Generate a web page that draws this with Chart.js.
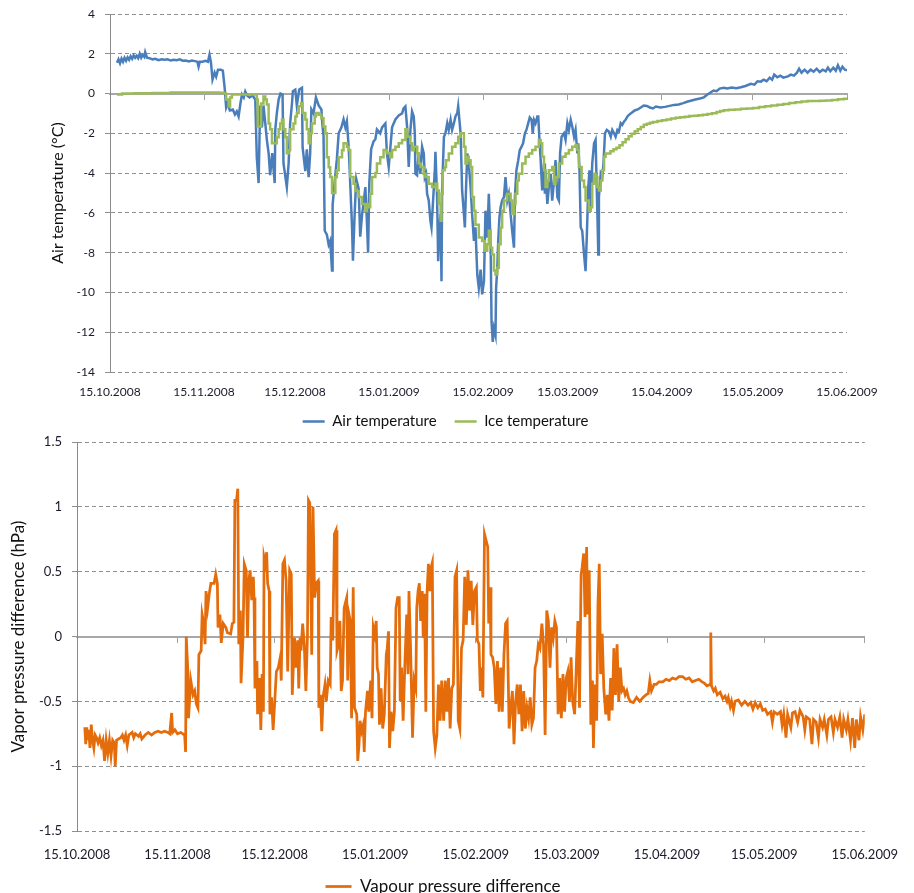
<!DOCTYPE html>
<html>
<head>
<meta charset="utf-8">
<script src="https://cdn.jsdelivr.net/npm/chart.js@4.4.0/dist/chart.umd.min.js"></script>
<style>
  html, body { margin: 0; padding: 0; background: #fff; }
  #wrap { position: relative; width: 914px; height: 893px; overflow: hidden; }
  canvas { position: absolute; left: 0; }
  #tempChart { top: 0; }
  #vapourChart { top: 430px; }
</style>
</head>
<body>
<div id="wrap">
  <canvas id="tempChart" width="914" height="445"></canvas>
  <canvas id="vapourChart" width="914" height="476"></canvas>
</div>
<script>
// x values are days after 15.10.2008
const tickDays = [0, 31, 61, 92, 123, 151, 182, 212, 243];
const tickLabels = ['15.10.2008', '15.11.2008', '15.12.2008', '15.01.2009', '15.02.2009',
                    '15.03.2009', '15.04.2009', '15.05.2009', '15.06.2009'];

// [day, air temperature °C]
const airTemp = [
  [2.3,1.55],[2.8,1.72],[3.3,1.52],[3.8,1.76],[4.3,1.6],[4.8,1.8],[5.3,1.65],[5.8,1.82],[6.3,1.7],[6.8,1.88],
  [7.3,1.75],[7.8,1.92],[8.3,1.8],[8.8,1.9],[9.3,1.78],[9.8,2.0],[10.3,1.8],[10.8,1.95],[11.3,1.85],[11.6,2.08],
  [12.2,1.8],[13,1.78],[14,1.72],[15,1.75],[16,1.68],[17,1.72],[18,1.7],[19,1.72],[20,1.66],[21,1.7],
  [22,1.68],[23,1.72],[24,1.65],[25,1.66],[26,1.62],[27,1.66],[28,1.63],[28.8,1.6],[29.2,1.35],[29.6,1.6],
  [30.5,1.6],[31.5,1.65],[32.3,1.6],[32.8,1.95],[33.3,1.55],[33.8,0.7],[34.5,1.05],[35,0.85],[35.6,1.2],[36.5,1.2],
  [37.2,1.15],[37.8,0.3],[38.3,-0.7],[38.8,-0.5],[39.5,-0.85],[40.5,-0.8],[41.2,-1.05],[41.8,-0.9],[42.4,-1.15],[43,-0.5],
  [43.5,-0.05],[44.1,-0.2],[44.6,0.1],[45.2,-0.1],[46,-0.2],[47,-0.1],[47.9,-0.3],[48.4,-3.2],[49,-4.5],[49.5,-0.6],
  [50.1,-1.7],[50.6,-0.6],[51.2,-1.5],[51.7,-2.3],[52.3,-3.0],[52.8,-4.1],[53.5,-3.0],[54.3,-4.5],[54.5,-1.8],[55,-1.0],
  [55.6,-0.3],[56.2,0.0],[56.9,-0.05],[57.2,-3.5],[58.3,-4.7],[58.9,-3.5],[59.4,-1.5],[60,-0.5],[60.3,0.12],[61.1,0.2],
  [61.6,-0.6],[62.4,0.2],[63.3,0.29],[63.5,-2.7],[64.4,-3.9],[64.9,-2.8],[65.5,-4.2],[66,-3.0],[66.4,-0.8],[67.1,-1.0],
  [67.9,-0.2],[68.8,-0.6],[69.7,-0.8],[70.1,-1.7],[70.4,-2.1],[70.8,-6.9],[71.5,-7.1],[72.1,-7.6],[72.6,-7.4],[73.2,-8.9],
  [73.4,-5.6],[74.1,-4.4],[74.8,-3.3],[75.4,-2.0],[76.3,-1.7],[77,-1.3],[77.6,-1.7],[78.1,-1.4],[78.7,-2.7],[79.2,-4.5],
  [79.8,-6.7],[80.1,-8.4],[80.7,-5.9],[81.2,-4.3],[82,-4.8],[82.5,-7.2],[83.1,-6.1],[83.6,-5.5],[84.2,-4.7],[84.7,-6.4],
  [85.1,-8.0],[85.5,-4.5],[86.1,-2.8],[86.9,-2.4],[87.5,-2.3],[88,-1.8],[89.1,-2.0],[89.7,-1.7],[90.8,-1.5],[91.3,-3.0],
  [91.9,-3.7],[93,-1.7],[94.1,-1.3],[95.2,-1.1],[96.3,-1.0],[96.8,-0.75],[97.4,-0.65],[97.95,-1.66],[98.5,-3.69],[99.05,-1.83],
  [99.6,-0.9],[100.15,-1.15],[100.5,-2.0],[100.7,-4.03],[101.25,-4.11],[101.8,-3.01],[102.35,-4.03],[102.9,-2.67],[103.45,-3.01],[103.8,-4.2],
  [104.2,-4.03],[104.55,-5.04],[105.1,-5.38],[105.65,-6.4],[106,-6.73],[106.4,-5.72],[107.1,-3.86],[107.3,-2.93],[107.85,-5.21],[108.2,-8.43],
  [108.6,-6.73],[109,-6.06],[109.3,-9.44],[109.5,-4.87],[110.1,-2.17],[110.6,-2.0],[111.2,-1.49],[111.7,-1.83],[112.3,-1.32],[112.8,-1.83],
  [113.4,-1.49],[113.9,-1.15],[114.5,-0.98],[114.8,-0.64],[115.2,-1.32],[115.6,-2.0],[116.1,-4.87],[116.7,-6.06],[117,-6.73],[117.4,-4.7],
  [117.8,-3.01],[118.3,-3.52],[118.9,-4.7],[119.4,-6.06],[120,-7.41],[120.5,-6.73],[121.1,-9.1],[121.6,-9.78],[122.2,-8.85],[122.7,-10.1],
  [123.3,-9.44],[123.8,-5.89],[124.4,-7.24],[124.9,-5.04],[125.5,-7.58],[125.8,-11.47],[126.2,-12.49],[126.6,-11.81],[127.1,-12.15],[127.3,-9.78],
  [127.7,-8.76],[128,-7.41],[128.4,-6.23],[128.8,-5.72],[129.3,-5.38],[129.9,-5.21],[130.4,-4.2],[131,-5.38],[131.5,-5.04],[132.1,-6.06],
  [132.6,-6.9],[133.2,-7.75],[133.5,-5.21],[134,-3.86],[134.6,-3.35],[135.1,-2.84],[135.7,-2.67],[136.2,-2.5],[136.8,-2.0],[137.3,-1.83],
  [137.9,-1.49],[138.4,-1.2],[139,-1.32],[139.4,-2.0],[139.8,-1.32],[140.3,-1.49],[140.9,-1.15],[141.2,-1.15],[141.6,-2.33],[142,-3.35],
  [142.5,-4.87],[143.1,-3.52],[143.4,-5.04],[143.6,-3.86],[144.2,-5.55],[144.7,-4.7],[145.3,-4.03],[145.8,-5.38],[146.4,-4.37],[146.9,-3.35],
  [147.5,-5.21],[148,-5.38],[148.4,-3.01],[148.9,-2.17],[149.7,-2.0],[150.2,-2.33],[150.8,-1.49],[151.3,-1.83],[151.9,-1.32],[152.4,-1.66],
  [153,-2.17],[153.5,-1.83],[154.1,-3.01],[154.4,-2.5],[154.8,-3.86],[155.2,-6.73],[155.7,-6.9],[156.3,-8.09],[156.8,-8.93],[157.2,-7.24],
  [157.7,-4.7],[158.1,-3.86],[158.5,-5.89],[159,-3.52],[159.6,-2.5],[160.1,-2.33],[160.7,-6.06],[161,-8.09],[161.2,-5.21],[161.8,-4.03],
  [162.3,-4.2],[162.7,-3.52],[163.2,-2.0],[163.8,-1.83],[164.5,-1.91],[165.1,-2.17],[165.6,-1.83],[166.2,-2.0],[166.7,-2.17],[167.3,-1.83],
  [167.8,-1.91],[168.4,-1.49],[168.9,-1.57],[169.5,-1.4],[170,-1.32],[170.6,-1.15],[171.1,-1.07],[172,-0.97],[173,-0.85],[174,-0.8],
  [175,-0.7],[176,-0.6],[177,-0.62],[178,-0.7],[179,-0.75],[180,-0.65],[181.5,-0.7],[183,-0.67],[184.5,-0.62],[186,-0.57],
  [187.5,-0.55],[189,-0.48],[190.5,-0.4],[191.5,-0.36],[193,-0.3],[194.5,-0.25],[195.8,-0.19],[197,-0.05],[198,0.05],[199,0.15],
  [200,0.12],[201,0.25],[202.4,0.29],[203.5,0.25],[205,0.3],[206.5,0.27],[208,0.32],[209.5,0.38],[211.3,0.49],[212.5,0.45],
  [213.5,0.62],[214.6,0.6],[215.5,0.7],[216.5,0.62],[217.5,0.8],[218.3,0.7],[219,0.95],[220,0.82],[221,0.9],[222,0.8],
  [223.5,0.86],[224.5,0.95],[225.5,0.9],[226.5,1.05],[227.2,1.25],[228,1.05],[229,1.2],[230,1.05],[231,1.2],[232,1.1],
  [233,1.25],[234,1.08],[235,1.2],[236,1.12],[236.7,1.3],[237.5,1.12],[238.5,1.3],[239.3,1.15],[240,1.42],[240.8,1.15],
  [241.5,1.35],[242.3,1.2],[243,1.17]
];

// [day, ice temperature °C]
const iceTemp = [
  [2.3,-0.05],[4,0.0],[8,0.02],[14,0.03],[20,0.05],[26,0.05],[32,0.05],[36,0.04],[37.5,0.0],[38.3,-0.3],
  [39.1,-0.65],[39.6,-0.2],[40.2,-0.05],[48,-0.05],[48.4,-0.3],[48.7,-1.66],[49.8,-0.5],[50.6,-0.15],[51.2,-0.3],[51.7,-0.55],
  [52.3,-1.5],[52.8,-1.8],[53.4,-2.5],[55,-2.2],[55.6,-1.8],[56.1,-1.5],[56.7,-1.3],[57.2,-1.8],[57.8,-2.2],[58.3,-3.0],
  [58.9,-2.85],[59.4,-1.8],[60.5,-1.5],[61.1,-1.15],[61.6,-0.98],[62.2,-0.64],[63,-0.47],[63.5,-0.98],[64.4,-1.3],[64.9,-1.8],
  [65.5,-2.5],[66,-2.0],[66.6,-1.5],[67.5,-1.15],[67.9,-0.98],[68.8,-1.07],[69.7,-1.24],[70.4,-1.66],[71,-2.0],[71.5,-3.2],
  [72.1,-3.7],[72.6,-4.2],[73.2,-5.0],[74.3,-4.2],[74.8,-3.86],[75.4,-3.2],[76.5,-2.85],[77,-2.5],[78.1,-2.67],[78.7,-2.84],
  [79.2,-4.2],[80.3,-4.53],[80.9,-4.9],[82,-5.2],[83.1,-5.55],[84.2,-5.9],[84.7,-5.55],[85.3,-5.72],[85.8,-5.04],[86.4,-4.2],
  [87.5,-4.0],[88,-3.52],[89.1,-3.2],[90.2,-2.84],[91.3,-3.0],[92.4,-3.2],[93,-2.84],[94.1,-2.67],[95.2,-2.5],[96.3,-2.33],
  [97.4,-1.8],[98,-2.17],[99,-2.5],[99.6,-2.85],[100.2,-2.67],[101.3,-3.0],[101.8,-3.52],[102.4,-3.69],[103.4,-4.03],[104,-4.2],
  [105.1,-4.53],[106.2,-4.7],[107.3,-4.53],[107.9,-4.87],[108.4,-5.55],[109,-6.4],[109.3,-5.04],[109.7,-3.86],[110.4,-3.69],[110.8,-3.35],
  [111.7,-3.01],[112.8,-2.67],[113.9,-2.5],[114.8,-2.17],[115.6,-2.0],[116.7,-2.67],[117.2,-3.52],[117.8,-3.18],[118.3,-3.35],[118.9,-3.69],
  [119.4,-5.2],[120,-5.89],[120.5,-6.6],[121.6,-7.24],[122.7,-7.41],[123.6,-7.9],[124.4,-7.58],[124.9,-6.9],[125.5,-7.75],[126,-8.09],
  [126.6,-8.9],[127.1,-9.1],[127.7,-8.76],[128.2,-7.58],[128.8,-6.73],[129.3,-5.89],[129.9,-5.38],[131,-5.04],[132.1,-5.38],[132.6,-6.06],
  [133.2,-5.55],[133.7,-5.04],[134.3,-4.37],[134.8,-4.03],[135.9,-3.52],[137,-3.18],[138.1,-3.01],[139.2,-2.84],[140.3,-2.67],[141.4,-2.33],
  [142,-2.5],[142.5,-3.18],[143.1,-3.86],[143.6,-4.7],[144.2,-4.37],[144.7,-3.86],[145.8,-3.69],[146.4,-4.53],[146.9,-4.2],[148,-3.52],
  [149.1,-3.18],[150.2,-3.01],[151.3,-2.84],[152.4,-2.67],[153.5,-2.59],[154.1,-2.84],[154.6,-3.69],[155.5,-4.37],[156.3,-4.7],[156.8,-5.38],
  [157.9,-5.89],[158.5,-5.72],[159,-4.53],[159.6,-4.03],[160.1,-4.2],[160.7,-4.7],[161.2,-4.87],[161.8,-4.37],[162.3,-3.86],[162.9,-3.18],
  [163.4,-3.01],[165,-2.9],[166,-2.8],[167,-2.72],[168,-2.6],[169,-2.45],[170,-2.3],[171,-2.15],[172,-2.02],[173,-1.9],
  [174,-1.8],[175,-1.68],[176,-1.57],[177,-1.52],[178,-1.47],[179,-1.43],[180.5,-1.38],[182,-1.34],[183.5,-1.3],[185,-1.25],
  [186.5,-1.22],[188,-1.19],[189.5,-1.16],[191,-1.13],[192.5,-1.11],[194,-1.09],[195.5,-1.06],[197,-1.03],[198.5,-0.99],[200,-0.93],
  [201.2,-0.88],[202.4,-0.84],[204,-0.82],[206,-0.8],[208,-0.77],[210,-0.75],[212,-0.72],[214,-0.68],[216,-0.64],[218,-0.6],
  [220,-0.56],[222,-0.52],[224,-0.48],[226,-0.44],[228,-0.4],[230,-0.38],[232,-0.37],[234,-0.36],[236,-0.35],[238,-0.32],
  [240,-0.29],[242,-0.26],[243,-0.24]
];

// [day, vapour pressure difference hPa]
const vapourDiff = [
  [2.4,-0.7],[2.7,-0.83],[3.0,-0.7],[3.3,-0.8],[3.6,-0.72],[4.0,-0.86],[4.4,-0.68],[4.8,-0.8],[5.2,-0.86],[5.6,-0.76],
  [6.0,-0.78],[6.5,-0.82],[7.0,-0.78],[7.5,-0.84],[8.0,-0.8],[8.5,-0.96],[9.0,-0.8],[9.5,-0.9],[10,-0.8],[10.5,-0.92],
  [11,-0.8],[11.5,-0.82],[11.8,-1.0],[12.2,-0.8],[12.8,-0.79],[13.5,-0.78],[14,-0.76],[14.5,-0.8],[15,-0.76],[15.5,-0.84],
  [16,-0.76],[17,-0.74],[17.5,-0.78],[18,-0.75],[19,-0.77],[19.5,-0.75],[20,-0.79],[21,-0.76],[22,-0.74],[23,-0.76],
  [24,-0.74],[25,-0.73],[26,-0.74],[27,-0.73],[28,-0.74],[28.6,-0.75],[29.2,-0.59],[29.5,-0.74],[30.2,-0.72],[31,-0.75],
  [32,-0.74],[33.2,-0.76],[33.5,-0.89],[33.7,0.0],[34.2,-0.27],[34.4,-0.63],[35.1,-0.34],[35.8,-0.45],[36.3,-0.42],[36.8,-0.52],
  [37.3,-0.55],[37.6,-0.14],[38.3,-0.11],[38.6,0.17],[39.1,0.1],[39.5,-0.06],[39.8,0.35],[40.3,0.22],[40.8,0.33],[41.3,0.41],
  [42.3,0.41],[42.8,0.48],[43.3,0.41],[43.5,0.07],[44.1,0.17],[44.5,-0.05],[45.1,0.1],[45.9,0.07],[46.4,0.03],[47.4,0.02],
  [47.9,0.1],[48.4,0.11],[48.7,1.05],[49.2,1.05],[49.6,1.14],[49.9,-0.06],[50.4,0.2],[50.6,-0.36],[51.2,-0.01],[51.6,0.56],
  [52.2,0.51],[52.6,-0.01],[53.0,0.43],[53.4,0.51],[53.9,0.28],[54.4,0.46],[54.6,0.3],[54.9,-0.4],[55.5,-0.19],[55.7,-0.6],
  [56.3,-0.32],[56.7,-0.72],[57.1,-0.29],[57.5,-0.58],[57.7,0.61],[58.1,0.56],[58.5,0.65],[58.8,0.41],[59.3,0.35],[59.5,-0.6],
  [60.0,-0.47],[60.5,-0.72],[61.0,-0.5],[61.5,-0.27],[62.1,-0.24],[62.7,-0.16],[63.0,-0.34],[63.5,0.56],[64.0,0.59],[64.5,0.43],
  [65.0,-0.27],[65.6,0.51],[66.1,0.48],[66.4,-0.45],[66.8,-0.19],[67.1,-0.01],[67.6,-0.24],[68.1,-0.03],[68.4,-0.4],[68.8,-0.01],
  [69.1,-0.11],[69.6,0.1],[70.1,-0.06],[70.6,-0.42],[71.1,0.02],[71.4,1.05],[71.8,1.03],[72.4,-0.14],[72.8,1.0],[73.3,0.3],
  [73.8,0.41],[74.4,0.43],[74.6,-0.55],[75.1,-0.45],[75.5,-0.73],[75.9,-0.47],[76.5,-0.37],[76.9,-0.5],[77.5,-0.34],[78.1,-0.37],
  [78.4,0.15],[78.9,-0.03],[79.4,0.79],[79.9,0.82],[80.2,-0.11],[80.7,-0.06],[81.1,0.12],[81.5,-0.42],[81.9,-0.34],[82.4,0.22],
  [82.7,0.25],[83.2,0.3],[83.5,-0.34],[83.9,0.17],[84.3,0.12],[84.7,-0.63],[85.2,0.38],[85.6,-0.55],[86.3,-0.6],[86.6,-0.96],
  [87.0,-0.83],[87.3,-0.65],[87.8,-0.73],[88.3,-0.68],[88.6,-0.89],[89.0,-0.58],[89.6,-0.42],[90.0,-0.58],[90.6,-0.34],[91.0,-0.63],
  [91.4,0.07],[91.8,0.02],[92.3,0.12],[92.6,-0.24],[93.0,-0.29],[93.3,-0.68],[93.8,-0.4],[94.3,-0.71],[94.8,-0.6],[95.4,-0.14],
  [95.7,-0.09],[96.1,0.04],[96.4,-0.86],[96.9,-0.58],[97.4,-0.73],[97.9,-0.58],[98.4,0.22],[98.9,0.3],[99.4,0.3],[99.7,-0.5],
  [100.1,-0.24],[100.6,-0.65],[101.1,-0.24],[101.7,0.17],[102.1,-0.29],[102.4,0.35],[102.9,-0.09],[103.5,-0.78],[104.0,-0.34],[104.5,-0.4],
  [104.8,0.22],[105.2,0.35],[105.6,0.41],[106.0,0.12],[106.5,0.35],[106.8,-0.01],[107.2,0.33],[107.6,-0.58],[108.0,0.35],[108.4,0.56],
  [108.8,0.35],[109.2,0.53],[109.6,0.57],[110.0,-0.73],[110.5,-0.86],[111.0,-0.76],[111.5,-0.37],[112.0,-0.65],[112.5,-0.34],[113.1,-0.65],
  [113.6,-0.34],[114.1,-0.58],[114.6,-0.32],[115.1,-0.71],[115.6,-0.4],[116.1,-0.37],[116.6,0.46],[117.1,0.51],[117.6,-0.65],[118.1,-0.71],
  [118.6,-0.09],[119.1,-0.03],[119.6,0.46],[120.1,0.09],[120.6,0.51],[121.1,0.2],[121.6,0.43],[122.1,0.09],[122.6,0.35],[123.2,0.38],
  [123.5,-0.03],[124.0,-0.06],[124.4,-0.42],[124.7,-0.24],[125.2,-0.47],[125.7,0.79],[126.2,0.74],[126.7,0.69],[127.0,0.1],[127.4,0.38],
  [127.7,-0.14],[128.2,-0.16],[128.7,-0.24],[129.2,-0.52],[129.7,-0.19],[130.2,-0.58],[130.7,-0.24],[131.2,-0.58],[131.7,-0.14],[132.2,0.1],
  [132.7,0.12],[133.3,-0.71],[133.8,-0.55],[134.3,-0.42],[134.8,-0.83],[135.3,-0.5],[135.8,-0.37],[136.3,-0.6],[136.8,-0.37],[137.3,-0.73],
  [137.8,-0.42],[138.3,-0.71],[138.8,-0.55],[139.3,-0.63],[139.8,-0.47],[140.3,-0.68],[140.8,-0.63],[141.3,-0.24],[141.8,-0.19],[142.3,-0.06],
  [142.8,-0.09],[143.4,0.1],[143.9,-0.06],[144.4,-0.76],[144.9,0.2],[145.4,0.12],[145.9,-0.24],[146.4,0.07],[146.9,-0.01],[147.4,0.12],
  [147.9,0.07],[148.4,-0.6],[148.9,-0.32],[149.4,-0.63],[149.9,-0.29],[150.4,-0.58],[150.9,-0.32],[151.4,-0.27],[151.9,-0.5],[152.4,-0.16],
  [152.9,-0.5],[153.5,-0.6],[154.0,-0.24],[154.5,0.12],[155.0,-0.55],[155.5,0.48],[155.8,0.53],[156.3,0.64],[156.7,0.15],[157.2,0.69],
  [157.5,0.17],[158.0,0.51],[158.5,-0.68],[159.0,-0.34],[159.3,-0.86],[159.7,-0.37],[160.3,-0.65],[160.7,0.25],[161.1,0.56],[161.5,-0.29],
  [162.0,0.02],[162.5,-0.4],[163.1,-0.6],[163.6,-0.45],[164.1,-0.65],[164.6,-0.32],[165.1,-0.57],[165.6,-0.09],[166.1,-0.45],[166.6,-0.06],
  [167.1,-0.5],[167.6,-0.24],[168.1,-0.42],[168.6,-0.4],[169.1,-0.45],[169.6,-0.42],[170.1,-0.47],[170.6,-0.5],[171.6,-0.51],[172.6,-0.47],
  [173.6,-0.5],[174.6,-0.47],[175.5,-0.45],[176.2,-0.44],[176.7,-0.34],[177.2,-0.42],[178,-0.37],[178.7,-0.37],[179.5,-0.35],[180.7,-0.35],
  [181.7,-0.33],[182.7,-0.34],[183.7,-0.32],[184.7,-0.33],[185.7,-0.31],[186.8,-0.31],[187.8,-0.33],[188.8,-0.32],[189.8,-0.35],[190.8,-0.34],
  [191.8,-0.33],[192.8,-0.35],[193.5,-0.36],[194.3,-0.38],[195.3,-0.37],[195.5,0.03],[195.7,-0.38],[196.4,-0.42],[196.9,-0.4],[197.5,-0.45],
  [198.4,-0.43],[199.2,-0.48],[199.9,-0.46],[200.5,-0.5],[200.9,-0.47],[201.5,-0.54],[201.9,-0.5],[202.5,-0.57],[203,-0.5],[204,-0.49],
  [205,-0.53],[206,-0.5],[207,-0.53],[207.8,-0.51],[208.5,-0.56],[209.2,-0.51],[210,-0.55],[210.8,-0.52],[211.5,-0.57],[212.3,-0.56],
  [213,-0.6],[214,-0.58],[214.5,-0.66],[215,-0.58],[216,-0.6],[217,-0.58],[217.5,-0.68],[218,-0.6],[218.7,-0.78],[219.2,-0.6],
  [220.2,-0.7],[220.7,-0.59],[221.5,-0.58],[222.3,-0.66],[223,-0.57],[224,-0.62],[224.5,-0.72],[225,-0.62],[226,-0.64],[226.7,-0.83],
  [227.2,-0.64],[228,-0.66],[228.7,-0.78],[229.2,-0.64],[230,-0.7],[230.5,-0.64],[231.3,-0.76],[231.8,-0.64],[232.6,-0.62],[233.3,-0.74],
  [233.8,-0.64],[234.6,-0.7],[235.3,-0.62],[236,-0.78],[236.5,-0.64],[237.3,-0.72],[237.8,-0.64],[238.6,-0.8],[239.2,-0.63],[239.9,-0.86],
  [240.4,-0.64],[241.2,-0.8],[241.7,-0.62],[242.4,-0.72],[243,-0.6]
];

Chart.defaults.font.family = "Lato, 'Open Sans', sans-serif";
Chart.defaults.color = '#222';

const toXY = pts => pts.map(p => ({ x: p[0], y: p[1] }));
const setDayTicks = scale => { scale.ticks = tickDays.map(d => ({ value: d })); };

// date labels sit below the plot, the axis line itself sits at zero
function labelAxis(fontSize, pad, height) {
  return {
    type: 'linear', position: 'bottom', min: 0, max: 243,
    afterBuildTicks: setDayTicks,
    ticks: { autoSkip: false, maxRotation: 0, font: { size: fontSize }, color: '#1a1a2a', padding: pad,
             callback: (v, i) => tickLabels[i] },
    grid: { display: false, drawTicks: false },
    border: { display: false },
    afterFit: s => { s.height = height; }
  };
}

function zeroAxis() {
  return {
    type: 'linear', position: { y: 0 }, min: 0, max: 243,
    afterBuildTicks: setDayTicks,
    ticks: { display: false },
    grid: { drawOnChartArea: false, drawTicks: true, tickLength: 5, tickColor: '#a0a0a0', tickWidth: 1 },
    border: { display: true, color: '#a8a8a8', width: 2 }
  };
}

function valueAxis(min, max, step, fontSize, title, titleSize, width) {
  return {
    min: min, max: max,
    ticks: { stepSize: step, font: { size: fontSize }, color: '#1a1a2a', padding: 10, callback: v => String(v) },
    grid: { color: '#8f8f8f', lineWidth: 1, tickLength: 5, tickColor: '#8f8f8f', tickBorderDash: [] },
    border: { display: true, color: '#8a8a8a', width: 1, dash: [4, 3] },
    title: { display: true, text: title, font: { size: titleSize }, color: '#111', padding: { top: 4, bottom: 0 } },
    // fixed width, and no extra room reserved above/below for the end labels
    afterFit: s => { s.width = width; s.paddingTop = 0; s.paddingBottom = 0; }
  };
}

new Chart(document.getElementById('tempChart'), {
  type: 'line',
  data: {
    datasets: [
      { label: 'Air temperature', data: toXY(airTemp), borderColor: '#4a7ebb', backgroundColor: '#4a7ebb',
        borderWidth: 2.5, pointRadius: 0, pointStyle: 'line', order: 1 },
      { label: 'Ice temperature', data: toXY(iceTemp), borderColor: '#9bbb59', backgroundColor: '#9bbb59',
        borderWidth: 2.5, pointRadius: 0, pointStyle: 'line', stepped: true, order: 0 }
    ]
  },
  options: {
    responsive: false, animation: false, devicePixelRatio: 1,
    layout: { padding: { left: 44, right: 67, top: 14, bottom: 6 } },
    plugins: {
      legend: { position: 'bottom',
        labels: { usePointStyle: true, pointStyleWidth: 22, font: { size: 15 }, color: '#111', padding: 18,
                  sort: (a, b) => a.datasetIndex - b.datasetIndex } },
      tooltip: { enabled: false }
    },
    scales: {
      x: labelAxis(12, 13, 24),
      xZero: zeroAxis(),
      y: valueAxis(-14, 4, 2, 12, 'Air temperature (°C)', 16, 66)
    }
  }
});

new Chart(document.getElementById('vapourChart'), {
  type: 'line',
  data: {
    datasets: [
      { label: 'Vapour pressure difference', data: toXY(vapourDiff), borderColor: '#e46c0a', backgroundColor: '#e46c0a',
        borderWidth: 2.75, pointRadius: 0, pointStyle: 'line' }
    ]
  },
  options: {
    responsive: false, animation: false, devicePixelRatio: 1,
    layout: { padding: { left: 4, right: 32, top: 12, bottom: 1 } },
    plugins: {
      legend: { position: 'bottom',
        labels: { usePointStyle: true, pointStyleWidth: 26, font: { size: 17 }, color: '#111', padding: 4 } },
      tooltip: { enabled: false }
    },
    scales: {
      x: labelAxis(13, 16, 43),
      xZero: zeroAxis(),
      y: valueAxis(-1.5, 1.5, 0.5, 13, 'Vapor pressure difference (hPa)', 17, 73)
    }
  }
});
</script>
</body>
</html>
